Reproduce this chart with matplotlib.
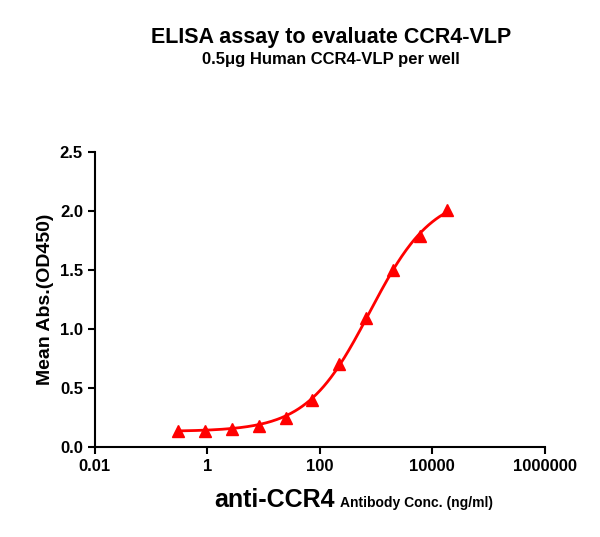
import matplotlib.pyplot as plt
import numpy as np

plt.rcParams["font.family"] = "Liberation Sans"

conc = [0.305 * 3 ** k for k in range(11)]
od450 = [0.136, 0.136, 0.15, 0.18, 0.24, 0.40, 0.70, 1.09, 1.50, 1.79, 2.01]
xticks = [0.01, 1, 100, 10000, 1000000]
xtick_labels = ["0.01", "1", "100", "10000", "1000000"]


def four_pl(x, bottom, top, ec50, hill):
    return bottom + (top - bottom) / (1 + (ec50 / x) ** hill)


# coarse grid fit of the 4PL curve
x = np.array(conc)
y = np.array(od450)
best = None
for top in np.linspace(1.9, 3.0, 45):
    for ec50 in np.logspace(2.3, 3.8, 60):
        for hill in np.linspace(0.6, 1.6, 41):
            err = np.sum((four_pl(x, 0.13, top, ec50, hill) - y) ** 2)
            if best is None or err < best[0]:
                best = (err, top, ec50, hill)
_, top, ec50, hill = best

fig = plt.figure(figsize=(6, 5.37), dpi=100)
ax = fig.add_axes([0.158, 0.168, 0.75, 0.549])

xs = np.logspace(np.log10(conc[0]), np.log10(conc[-1]), 300)
ax.plot(xs, four_pl(xs, 0.13, top, ec50, hill), color="red", linewidth=2)
ax.plot(conc, od450, linestyle="none", marker="^", color="red", markersize=8)

ax.set_xscale("log")
ax.set_xlim(0.01, 1000000)
ax.set_ylim(0, 2.5)
ax.set_xticks(xticks)
ax.set_xticklabels(xtick_labels)
ax.minorticks_off()
ax.set_yticks(np.arange(0, 2.51, 0.5))
ax.set_yticklabels([f"{v:.1f}" for v in np.arange(0, 2.51, 0.5)])
for s in ("top", "right"):
    ax.spines[s].set_visible(False)
for s in ("left", "bottom"):
    ax.spines[s].set_linewidth(1.5)
ax.tick_params(width=1.5, length=5, labelsize=12)
for lab in ax.get_xticklabels() + ax.get_yticklabels():
    lab.set_fontweight("bold")

ax.set_ylabel("Mean Abs.(OD450)", fontsize=14, fontweight="bold")
fig.text(0.558, 0.055, "anti-CCR4", fontsize=18, fontweight="bold", ha="right")
fig.text(0.566, 0.055, "Antibody Conc. (ng/ml)", fontsize=10, fontweight="bold", ha="left")
fig.text(0.552, 0.92, "ELISA assay to evaluate CCR4-VLP", fontsize=15.5, fontweight="bold", ha="center")
fig.text(0.552, 0.88, "0.5\u03bcg Human CCR4-VLP per well", fontsize=12, fontweight="bold", ha="center")

fig.savefig("out.png", dpi=100)
